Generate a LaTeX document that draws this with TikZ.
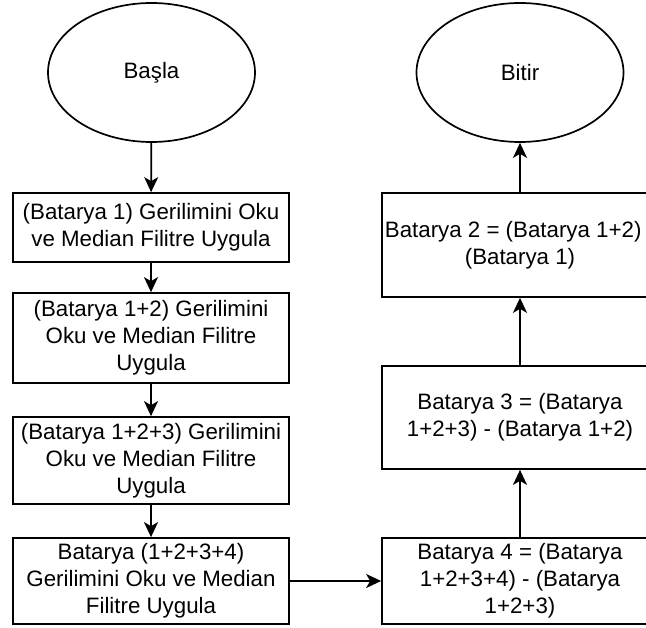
\documentclass[tikz,border=0pt]{standalone}
\usepackage{fontspec}
\setmainfont{Liberation Sans}
\usetikzlibrary{shapes.geometric,arrows.meta}

\begin{document}
\begin{tikzpicture}[x=1pt,y=-1pt,
  every node/.style={font=\fontsize{22.3}{27}\selectfont, align=center, inner sep=0pt},
  terminal/.style={draw, ellipse, line width=1.7pt, minimum width=207pt, minimum height=139pt},
  stepbox/.style={draw, rectangle, line width=1.7pt, minimum width=276pt},
  flow/.style={line width=1.7pt, -{Stealth[length=15pt,width=14pt,inset=4pt]}}
]
\useasboundingbox (0,0) rectangle (646,628);
\clip (0,0) rectangle (646,628);

% left column: measurement steps
\node[terminal] (start) at (151.5,72.5) {Başla};
\node[stepbox, minimum height=69pt] (b1) at (151,227.5)
  {(Batarya 1) Gerilimini Oku\\ve Median Filitre Uygula};
\node[stepbox, minimum height=90pt] (b2) at (151,338)
  {(Batarya 1+2) Gerilimini\\Oku ve Median Filitre\\Uygula};
\node[stepbox, minimum height=87pt] (b3) at (151,460.5)
  {(Batarya 1+2+3) Gerilimini\\Oku ve Median Filitre\\Uygula};
\node[stepbox, minimum height=86pt] (b4) at (151,581)
  {Batarya (1+2+3+4)\\Gerilimini Oku ve Median\\Filitre Uygula};

% right column: cell voltages by difference
\node[stepbox, minimum height=86pt] (r4) at (520,581)
  {Batarya 4 = (Batarya\\1+2+3+4) - (Batarya\\1+2+3)};
\node[stepbox, minimum height=103pt] (r3) at (520,417.5)
  {Batarya 3 = (Batarya\\1+2+3) - (Batarya 1+2)};
\node[stepbox, minimum height=104pt] (r2) at (520,245)
  {Batarya 2 = (Batarya 1+2)\hphantom{ -}\\(Batarya 1)};
\node[terminal] (end) at (520,72.5) {Bitir};

% connectors
\draw[flow] (start) -- (b1);
\draw[flow] (b1) -- (b2);
\draw[flow] (b2) -- (b3);
\draw[flow] (b3) -- (b4);
\draw[flow] (b4) -- (r4);
\draw[flow] (r4) -- (r3);
\draw[flow] (r3) -- (r2);
\draw[flow] (r2) -- (end);
\end{tikzpicture}
\end{document}
